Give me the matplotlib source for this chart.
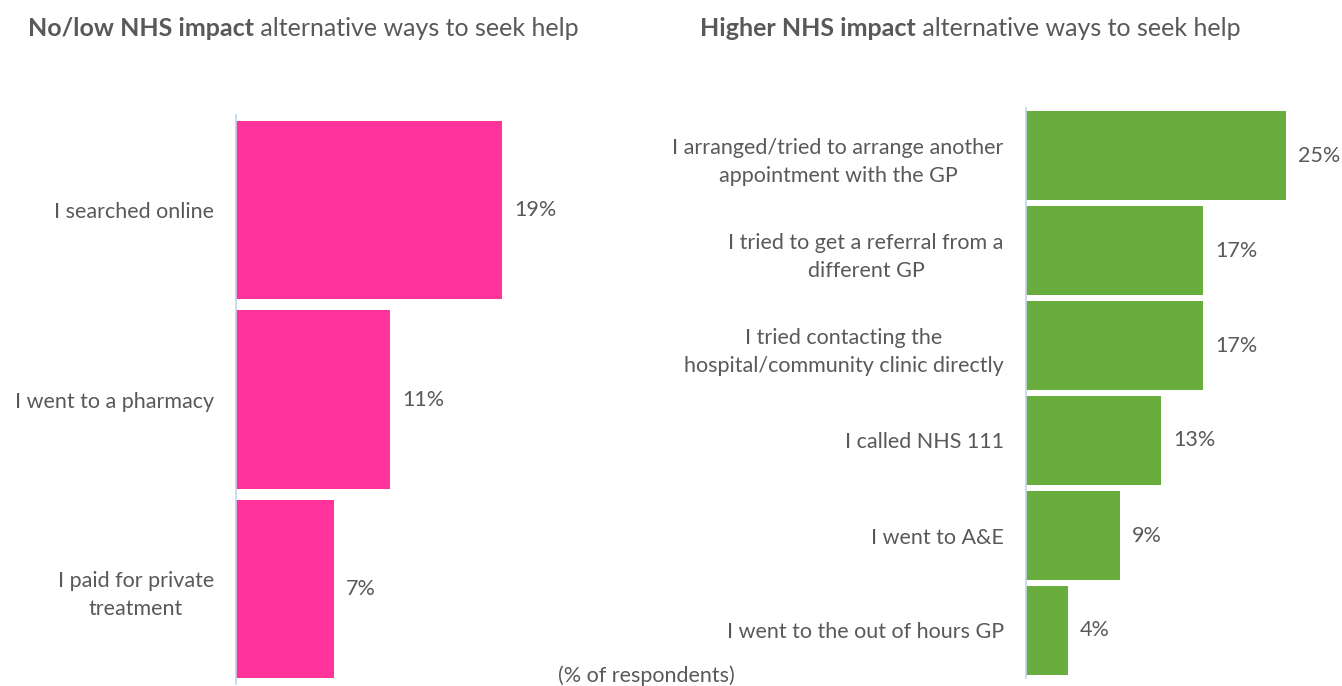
import matplotlib

matplotlib.use("Agg")

import matplotlib.pyplot as plt

plt.rcParams["font.family"] = ["Lato", "DejaVu Sans"]

GREY = "#595959"
PINK = "#FF3399"
GREEN = "#6AAD3F"
AXIS_BLUE = "#BDD7EE"

low_labels = ["I searched online", "I went to a pharmacy",
              "I paid for private\ntreatment"]
low_values = [19, 11, 7]

high_labels = ["I arranged/tried to arrange another\nappointment with the GP",
               "I tried to get a referral from a\ndifferent GP",
               "I tried contacting the\nhospital/community clinic directly",
               "I called NHS 111",
               "I went to A&E",
               "I went to the out of hours GP"]
high_values = [25, 17, 17, 13, 9, 4]

W, H = 1342, 686
fig = plt.figure(figsize=(W / 100, H / 100), dpi=100)


def px_axes(left, top, width, height):
    return fig.add_axes([left / W, 1 - (top + height) / H, width / W, height / H])


def draw_panel(ax, labels, values, color, xmax):
    positions = list(range(len(values)))
    ax.barh(positions, values, height=0.94, color=color)
    ax.set_ylim(len(values) - 0.5, -0.5)
    ax.set_xlim(0, xmax)
    for side in ["top", "right", "bottom"]:
        ax.spines[side].set_visible(False)
    ax.spines["left"].set_color(AXIS_BLUE)
    ax.spines["left"].set_linewidth(1.2)
    ax.set_xticks([])
    ax.set_yticks(positions)
    ax.set_yticklabels(labels, fontsize=15.5, color=GREY, ha="right",
                       multialignment="center", linespacing=1.5)
    # pad is in points: 16 pt is about 22 px here
    ax.tick_params(axis="y", length=0, pad=16)
    for pos, val in zip(positions, values):
        ax.annotate(f"{val}%", (val, pos), xytext=(12, 0),
                    textcoords="offset pixels", va="center", ha="left",
                    fontsize=15.5, color=GREY)


ax1 = px_axes(236, 115, 350, 569)
draw_panel(ax1, low_labels, low_values, PINK, 25)

ax2 = px_axes(1026, 108, 312, 570)
draw_panel(ax2, high_labels, high_values, GREEN, 30)

# titles: bold part followed by regular part
fig.canvas.draw()
renderer = fig.canvas.get_renderer()
for x0, bold, rest in [(28, "No/low NHS impact", " alternative ways to seek help"),
                       (700, "Higher NHS impact", " alternative ways to seek help")]:
    t = fig.text(x0 / W, 1 - 28 / H, bold, fontsize=18, fontweight="bold",
                 color=GREY, va="center", ha="left")
    bb = t.get_window_extent(renderer)
    fig.text(bb.x1 / W, 1 - 28 / H, rest, fontsize=18, color=GREY,
             va="center", ha="left")

fig.text(646 / W, 1 - 676 / H, "(% of respondents)", fontsize=15.5, color=GREY,
         ha="center", va="center")

fig.savefig("out.png", dpi=100)
